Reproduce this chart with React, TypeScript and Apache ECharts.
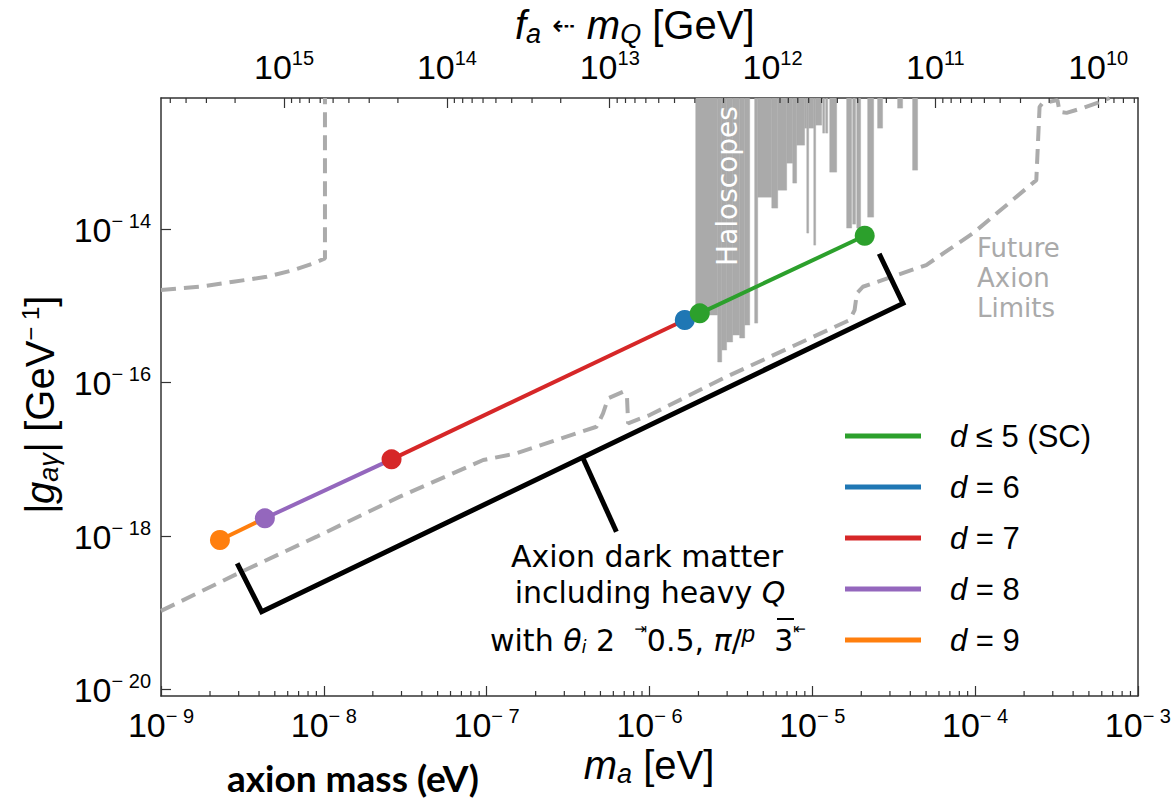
import React, { useEffect, useRef } from "react";
import * as echarts from "echarts";

// ---- axis ranges (log10 units) ----
const X_MIN = -9;
const X_MAX = -3;
const Y_MIN = -20.09;
const Y_MAX = -12.29;
const Y_MAJOR = [-20, -18, -16, -14];
const FA_TIMES_MA = 6.756; // log10( f_a[GeV] * m_a[eV] )
const FA_MAJOR = [15, 14, 13, 12, 11, 10];

// ---- series: [log10 m_a (eV), log10 |g| (GeV^-1)] ----
const SERIES_NAMES = ["d ≤ 5 (SC)", "d = 6", "d = 7", "d = 8", "d = 9"];
const SERIES_COLORS = ["#2ca02c", "#1f77b4", "#d62728", "#9467bd", "#ff7f0e"];
const D5_SC = [[-5.691, -15.099], [-4.678, -14.087]];
const D6 = [[-5.783, -15.186], [-5.691, -15.099]];
const D7 = [[-7.584, -17.003], [-5.783, -15.186]];
const D8 = [[-8.362, -17.772], [-7.584, -17.003]];
const D9 = [[-8.638, -18.055], [-8.362, -17.772]];
const D5_DOTS = [true, true];
const D6_DOTS = [true, false];
const D7_DOTS = [true, false];
const D8_DOTS = [true, false];
const D9_DOTS = [true, false];

// future axion limits (dashed)
const FUTURE_1 = [
  [-9, -14.795], [-8.761, -14.752], [-8.556, -14.687], [-8.351, -14.622],
  [-8.188, -14.535], [-8.065, -14.447], [-7.993, -14.382], [-7.993, -12.29],
];
const FUTURE_2 = [
  [-9, -18.98], [-8.525, -18.489], [-8.044, -18.012], [-7.533, -17.49],
  [-7.021, -17.012], [-6.816, -16.924], [-6.325, -16.578], [-6.285, -16.403],
  [-6.254, -16.207], [-6.162, -16.121], [-6.138, -16.186], [-6.131, -16.533],
  [-5.998, -16.425], [-5.548, -15.947], [-4.77, -15.186], [-4.74, -15.056],
  [-4.726, -14.838], [-4.689, -14.752], [-4.3, -14.469], [-4.157, -14.261],
  [-4.014, -14.056], [-3.624, -13.361], [-3.604, -12.406], [-3.586, -12.357],
  [-3.494, -12.318], [-3.481, -12.471], [-3.438, -12.484], [-3.34, -12.422],
  [-3.236, -12.344], [-3.174, -12.29],
];

// haloscope exclusions: [m_left, m_right, g_bottom] (filled up to the top)
const HALOSCOPES = [
  [-5.716, -5.581, -15.121], [-5.581, -5.556, -15.734], [-5.556, -5.526, -15.578],
  [-5.526, -5.489, -15.473], [-5.489, -5.446, -15.382], [-5.446, -5.415, -15.421],
  [-5.415, -5.384, -15.252], [-5.354, -5.335, -15.226], [-5.335, -5.249, -13.583],
  [-5.249, -5.212, -13.726], [-5.212, -5.157, -13.492], [-5.157, -5.12, -13.14],
  [-5.12, -5.096, -13.4], [-5.096, -5.047, -12.905], [-5.047, -5.034, -12.683],
  [-5.034, -5.022, -14.052], [-5.022, -4.991, -12.683], [-4.991, -4.979, -14.209],
  [-4.979, -4.942, -12.644], [-4.936, -4.924, -12.748], [-4.918, -4.905, -12.748],
  [-4.893, -4.85, -13.257], [-4.789, -4.758, -13.987], [-4.752, -4.734, -13.935],
  [-4.727, -4.703, -13.987], [-4.66, -4.623, -13.844], [-4.599, -4.568, -12.683],
  [-4.476, -4.445, -12.422], [-4.384, -4.353, -13.231],
];

// annotation bracket and pointer
const BRACKET = [[-8.532, -18.359], [-8.382, -18.99], [-4.443, -14.969], [-4.589, -14.322]];
const POINTER = [[-6.408, -16.99], [-6.203, -17.947]];

const FONT = "'Liberation Sans', Arial, Helvetica, sans-serif";
const WIDE = "'DejaVu Sans', sans-serif";

function minorBottom(): number[][] {
  const out: number[][] = [];
  for (let e = X_MIN; e < X_MAX; e++) {
    for (let k = 2; k <= 9; k++) out.push([e + Math.log10(k), Y_MIN]);
  }
  return out;
}

function minorTop(): number[][] {
  const out: number[][] = [];
  for (let n = 9; n <= 15; n++) {
    for (let k = 2; k <= 9; k++) {
      const v = FA_TIMES_MA - (n + Math.log10(k));
      if (v > X_MIN && v < X_MAX) out.push([v, Y_MAX]);
    }
  }
  return out;
}

const tickRich = {
  b: { fontSize: 34, fontFamily: FONT, color: "#000", lineHeight: 36, verticalAlign: "bottom" },
  s: { fontSize: 20, fontFamily: FONT, color: "#000", lineHeight: 20, verticalAlign: "top" },
};

function segSeries(name: string, color: string, pts: number[][], dots: boolean[]) {
  return {
    name,
    type: "line",
    data: pts.map((p, i) =>
      dots[i] ? { value: p, symbol: "circle", symbolSize: 20 } : { value: p, symbol: "none" }
    ),
    color,
    symbol: "circle",
    symbolSize: 20,
    showSymbol: true,
    lineStyle: { color, width: 4 },
    itemStyle: { color, borderWidth: 0 },
    silent: true,
    z: 5,
  };
}

function tickSeries(data: number[][], up: boolean) {
  return {
    type: "custom",
    silent: true,
    clip: false,
    z: 6,
    data,
    renderItem: (_p: any, api: any) => {
      const c = api.coord([api.value(0), api.value(1)]);
      return {
        type: "line",
        shape: { x1: c[0], y1: c[1], x2: c[0], y2: up ? c[1] - 5 : c[1] + 5 },
        style: { stroke: "#333", lineWidth: 1.2 },
      };
    },
  };
}

function buildOption() {
  const axisLineStyle = { color: "#333", width: 1.5 };
  return {
    animation: false,
    backgroundColor: "#fff",
    grid: { left: 161, right: 36, top: 98, bottom: 106, containLabel: false },
    xAxis: [
      {
        type: "value",
        min: X_MIN,
        max: X_MAX,
        interval: 1,
        position: "bottom",
        axisLine: { show: true, onZero: false, lineStyle: axisLineStyle },
        axisTick: { show: true, inside: true, length: 10, lineStyle: { color: "#333", width: 1.2 } },
        axisLabel: {
          show: true,
          margin: 10,
          formatter: (v: number) => `{b|10}{s|− ${Math.round(-v)}}`,
          rich: tickRich,
        },
        splitLine: { show: false },
      },
      {
        type: "value",
        min: X_MIN,
        max: X_MAX,
        position: "top",
        axisLine: { show: true, onZero: false, lineStyle: axisLineStyle },
        axisTick: {
          show: true,
          inside: true,
          length: 10,
          customValues: FA_MAJOR.map((n) => FA_TIMES_MA - n),
          lineStyle: { color: "#333", width: 1.2 },
        },
        axisLabel: {
          show: true,
          margin: 14,
          customValues: FA_MAJOR.map((n) => FA_TIMES_MA - n),
          formatter: (v: number) => `{b|10}{s|${Math.round(FA_TIMES_MA - v)}}`,
          rich: tickRich,
        },
        splitLine: { show: false },
      },
    ],
    yAxis: [
      {
        type: "value",
        min: Y_MIN,
        max: Y_MAX,
        position: "left",
        axisLine: { show: true, onZero: false, lineStyle: axisLineStyle },
        axisTick: {
          show: true,
          inside: true,
          length: 10,
          customValues: Y_MAJOR,
          lineStyle: { color: "#333", width: 1.2 },
        },
        axisLabel: {
          show: true,
          margin: 10,
          customValues: Y_MAJOR,
          formatter: (v: number) => `{b|10}{s|− ${Math.round(-v)}}`,
          rich: tickRich,
        },
        splitLine: { show: false },
      },
      {
        type: "value",
        min: Y_MIN,
        max: Y_MAX,
        position: "right",
        axisLine: { show: true, onZero: false, lineStyle: axisLineStyle },
        axisTick: { show: false },
        axisLabel: { show: false },
        splitLine: { show: false },
      },
    ],
    legend: {
      data: SERIES_NAMES,
      orient: "vertical",
      left: 845,
      top: 419,
      padding: 0,
      icon: "rect",
      itemWidth: 76,
      itemHeight: 5,
      itemGap: 17,
      selectedMode: false,
      formatter: (name: string) => `{i|d}${name.slice(1)}`,
      textStyle: {
        fontSize: 31,
        fontFamily: FONT,
        color: "#000",
        lineHeight: 34,
        padding: [0, 0, 0, 24],
        rich: { i: { fontSize: 31, fontFamily: FONT, fontStyle: "italic", color: "#000", lineHeight: 34 } },
      },
    },
    series: [
      {
        type: "custom",
        name: "Haloscopes",
        silent: true,
        clip: true,
        z: 2,
        encode: { x: [0, 1], y: 2 },
        data: HALOSCOPES,
        renderItem: (_p: any, api: any) => {
          const a = api.coord([api.value(0), Y_MAX]);
          const b = api.coord([api.value(1), api.value(2)]);
          return {
            type: "rect",
            shape: { x: a[0], y: a[1], width: b[0] - a[0], height: b[1] - a[1] },
            style: { fill: "#aaaaaa", stroke: "#aaaaaa", lineWidth: 0.4 },
          };
        },
      },
      {
        type: "line",
        name: "future1",
        data: FUTURE_1,
        showSymbol: false,
        symbol: "none",
        silent: true,
        z: 3,
        lineStyle: { color: "#ababab", width: 4, type: [15, 8] },
      },
      {
        type: "line",
        name: "future2",
        data: FUTURE_2,
        showSymbol: false,
        symbol: "none",
        silent: true,
        z: 3,
        lineStyle: { color: "#ababab", width: 4, type: [15, 8] },
      },
      {
        type: "line",
        name: "bracket",
        data: BRACKET,
        showSymbol: false,
        symbol: "none",
        silent: true,
        z: 4,
        lineStyle: { color: "#000", width: 5, join: "miter" },
      },
      {
        type: "line",
        name: "pointer",
        data: POINTER,
        showSymbol: false,
        symbol: "none",
        silent: true,
        z: 4,
        lineStyle: { color: "#000", width: 5 },
      },
      segSeries(SERIES_NAMES[4], SERIES_COLORS[4], D9, D9_DOTS),
      segSeries(SERIES_NAMES[3], SERIES_COLORS[3], D8, D8_DOTS),
      segSeries(SERIES_NAMES[2], SERIES_COLORS[2], D7, D7_DOTS),
      segSeries(SERIES_NAMES[1], SERIES_COLORS[1], D6, D6_DOTS),
      segSeries(SERIES_NAMES[0], SERIES_COLORS[0], D5_SC, D5_DOTS),
      tickSeries(minorBottom(), true),
      tickSeries(minorTop(), false),
    ],
    graphic: {
      elements: [
        {
          type: "text",
          x: 515,
          y: 25,
          style: {
            text: "{i|f}{sb|a} {ar|⇠} {i|m}{sb|Q} [GeV]",
            fontSize: 40,
            fontFamily: FONT,
            lineHeight: 44,
            fill: "#000",
            align: "left",
            verticalAlign: "middle",
            rich: {
              i: { fontSize: 40, fontFamily: FONT, fontStyle: "italic", lineHeight: 44, fill: "#000" },
              sb: { fontSize: 27, fontFamily: FONT, fontStyle: "italic", lineHeight: 32, verticalAlign: "bottom", fill: "#000" },
              ar: { fontSize: 28, fontFamily: WIDE, lineHeight: 44, fill: "#000" },
            },
          },
        },
        {
          type: "text",
          x: 40,
          y: 405,
          rotation: Math.PI / 2,
          style: {
            text: "{i||g}{sb|aγ}{i||} [GeV{sp|− 1}]",
            fontSize: 40,
            fontFamily: FONT,
            lineHeight: 44,
            fill: "#000",
            align: "center",
            verticalAlign: "middle",
            rich: {
              i: { fontSize: 40, fontFamily: FONT, fontStyle: "italic", lineHeight: 44, fill: "#000" },
              sb: { fontSize: 27, fontFamily: FONT, fontStyle: "italic", lineHeight: 27, verticalAlign: "bottom", fill: "#000" },
              sp: { fontSize: 24, fontFamily: FONT, lineHeight: 24, verticalAlign: "top", fill: "#000" },
            },
          },
        },
        {
          type: "text",
          x: 649,
          y: 765,
          style: {
            text: "{i|m}{sb|a} [eV]",
            fontSize: 40,
            fontFamily: FONT,
            lineHeight: 44,
            fill: "#000",
            align: "center",
            verticalAlign: "middle",
            rich: {
              i: { fontSize: 40, fontFamily: FONT, fontStyle: "italic", lineHeight: 44, fill: "#000" },
              sb: { fontSize: 27, fontFamily: FONT, fontStyle: "italic", lineHeight: 27, verticalAlign: "bottom", fill: "#000" },
            },
          },
        },
        {
          type: "text",
          x: 353,
          y: 777,
          style: {
            text: "axion mass (eV)",
            fontSize: 37,
            fontWeight: "bold",
            fontFamily: "Lato, 'Open Sans', sans-serif",
            fill: "#000",
            align: "center",
            verticalAlign: "middle",
          },
        },
        {
          type: "text",
          x: 727,
          y: 186,
          rotation: Math.PI / 2,
          z: 10,
          style: {
            text: "Haloscopes",
            fontSize: 28,
            fontFamily: WIDE,
            fill: "#fff",
            align: "center",
            verticalAlign: "middle",
          },
        },
        {
          type: "text",
          x: 977,
          y: 278,
          style: {
            text: "Future\nAxion\nLimits",
            fontSize: 26,
            lineHeight: 30,
            fontFamily: WIDE,
            fill: "#aaaaaa",
            align: "left",
            verticalAlign: "middle",
          },
        },
        {
          type: "text",
          x: 647,
          y: 556,
          style: {
            text: "Axion dark matter",
            fontSize: 30,
            fontFamily: WIDE,
            fill: "#000",
            align: "center",
            verticalAlign: "middle",
          },
        },
        {
          type: "text",
          x: 650,
          y: 592,
          style: {
            text: "including heavy {i|Q}",
            fontSize: 30,
            fontFamily: WIDE,
            lineHeight: 34,
            fill: "#000",
            align: "center",
            verticalAlign: "middle",
            rich: { i: { fontSize: 30, fontFamily: WIDE, fontStyle: "italic", lineHeight: 34, fill: "#000" } },
          },
        },
        {
          type: "text",
          x: 490,
          y: 638,
          style: {
            text: "{m|with }{i|θ}{sb|i}{m| 2  }{up|⇥}{m|0.5, }{i|π}{m|/}{pp|p}{m|  3}{up|⇤}",
            fontSize: 30,
            fontFamily: WIDE,
            lineHeight: 34,
            fill: "#000",
            align: "left",
            verticalAlign: "middle",
            rich: {
              m: { fontSize: 30, fontFamily: WIDE, lineHeight: 34, verticalAlign: "bottom", fill: "#000" },
              i: { fontSize: 30, fontFamily: WIDE, fontStyle: "italic", lineHeight: 34, verticalAlign: "bottom", fill: "#000" },
              sb: { fontSize: 18, fontFamily: WIDE, fontStyle: "italic", lineHeight: 18, verticalAlign: "bottom", fill: "#000" },
              up: { fontSize: 15, fontFamily: WIDE, lineHeight: 15, verticalAlign: "top", fill: "#000" },
              pp: { fontSize: 24, fontFamily: FONT, fontStyle: "italic", lineHeight: 22, verticalAlign: "top", fill: "#000" },
            },
          },
        },
        {
          type: "line",
          shape: { x1: 777, y1: 619, x2: 794, y2: 619 },
          style: { stroke: "#000", lineWidth: 2 },
        },
      ],
    },
  };
}

export default function App() {
  const ref = useRef<HTMLDivElement>(null);
  useEffect(() => {
    if (!ref.current) return;
    const chart = echarts.init(ref.current, null, { renderer: "svg" });
    chart.setOption(buildOption() as any);
    return () => {
      chart.dispose();
    };
  }, []);
  return (
    <div
      ref={ref}
      style={{ position: "absolute", left: 0, top: 0, width: 1174, height: 802, background: "#fff" }}
    />
  );
}
